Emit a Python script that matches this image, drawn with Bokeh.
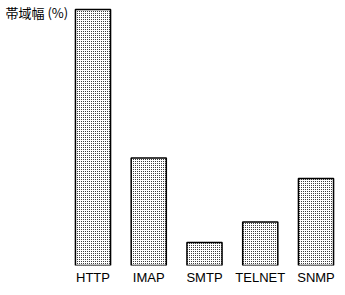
from bokeh.plotting import figure
from bokeh.models import Label, Range1d, FixedTicker
from bokeh.embed import file_html
from bokeh.resources import INLINE

protocols = ["HTTP", "IMAP", "SMTP", "TELNET", "SNMP"]
bandwidth = [50, 21, 4.5, 8.5, 17]
title_text = "帯域幅 (%)"

positions = list(range(len(protocols)))
unit = 55.75  # pixels per category slot

p = figure(width=345, height=295, output_backend="svg",
           toolbar_location=None, y_axis_location=None,
           min_border_left=0, min_border_right=0, min_border_top=0, min_border_bottom=30)
x0 = -92.5 / unit
p.x_range = Range1d(x0, x0 + 345 / unit)
p.y_range = Range1d(0, 265 / 5.12)
p.vbar(x=positions, top=bandwidth, width=0.63, bottom=0,
       fill_color="white", line_color="black", line_width=1.5,
       hatch_pattern=".", hatch_color="black", hatch_scale=2)

p.xaxis.ticker = FixedTicker(ticks=positions)
p.xaxis.major_label_overrides = {i: name for i, name in zip(positions, protocols)}
p.xaxis.axis_line_color = None
p.xaxis.major_tick_line_color = None
p.xaxis.minor_tick_line_color = None
p.xaxis.major_label_text_font = "Liberation Sans"
p.xaxis.major_label_text_font_size = "13px"
p.xaxis.major_label_text_color = "black"
p.xaxis.major_label_standoff = -2
p.xgrid.grid_line_color = None
p.ygrid.grid_line_color = None
p.outline_line_color = None

p.add_layout(Label(x=5, y=253, x_units="screen", y_units="screen", text=title_text,
                   text_font="Noto Sans CJK JP", text_font_size="13px",
                   text_color="black", text_baseline="middle"))

open("out.html", "w").write(file_html(p, INLINE))
